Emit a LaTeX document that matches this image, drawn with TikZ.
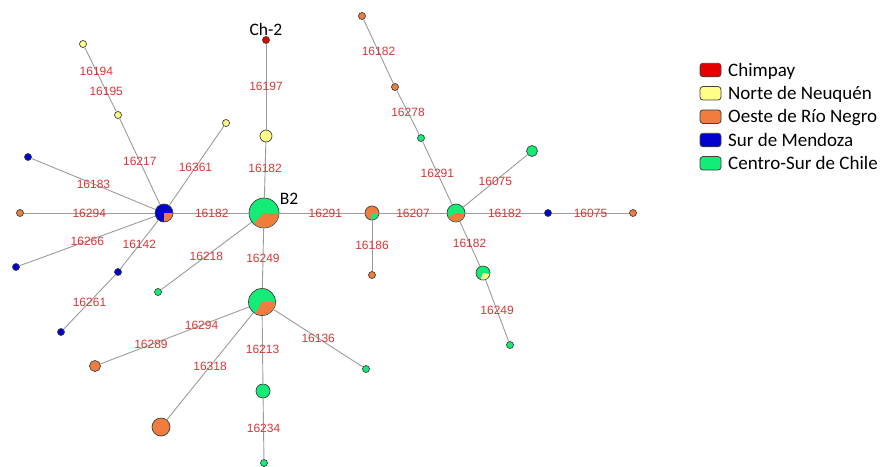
\documentclass[tikz,border=0pt]{standalone}
\usepackage{fontspec}
\newfontfamily\mutfont{Liberation Sans}
\newfontfamily\keyfont{Carlito}
\definecolor{chimpay}{RGB}{228,0,0}
\definecolor{neuquen}{RGB}{255,255,135}
\definecolor{rionegro}{RGB}{240,125,62}
\definecolor{mendoza}{RGB}{0,0,205}
\definecolor{chile}{RGB}{20,236,120}
\definecolor{mutred}{RGB}{215,55,55}
\definecolor{edgegray}{RGB}{155,155,155}
\tikzset{
  hap/.style={circle,draw=black!75,line width=0.7pt,inner sep=0pt,minimum size=#1},
  hap/.default=7pt,
  link/.style={draw=edgegray,line width=0.9pt},
  mut/.style={font=\mutfont\fontsize{12}{13}\selectfont,text=mutred,inner sep=0pt},
  tag/.style={font=\keyfont\fontsize{17.5}{20}\selectfont,inner sep=0pt},
  keybox/.style={draw=black!75,line width=0.8pt,rounded corners=3pt,minimum width=21pt,minimum height=13.5pt,inner sep=0pt},
  keytext/.style={font=\keyfont\fontsize{19}{22}\selectfont,inner sep=0pt,anchor=base west}
}
% slice of a pie node: node, colour, start, end, radius
\newcommand{\hapslice}[5]{\fill[#2] (#1.center) -- ++(#3:#5) arc[start angle=#3,end angle=#4,radius=#5] -- cycle;}
\begin{document}
\begin{tikzpicture}[x=1pt,y=-1pt]
\useasboundingbox (0,0) rectangle (880,466);
\clip (0,0) rectangle (880,466);

% haplotypes
\node[hap,fill=chimpay] (ch2) at (266,40) {};
\node[hap=12pt,fill=neuquen] (nqA) at (266,136) {};
\node[hap=30pt,fill=chile] (b2) at (264,213) {};
\node[hap=18pt,fill=mendoza] (mza) at (164,213) {};
\node[hap,fill=neuquen] (nqB) at (118,115) {};
\node[hap,fill=neuquen] (nqC) at (83,44) {};
\node[hap,fill=neuquen] (nqD) at (226,123) {};
\node[hap,fill=mendoza] (mzA) at (28,157) {};
\node[hap,fill=rionegro] (rnA) at (20,213) {};
\node[hap,fill=mendoza] (mzB) at (16,267) {};
\node[hap,fill=mendoza] (mzC) at (118,272) {};
\node[hap,fill=mendoza] (mzD) at (61,332) {};
\node[hap,fill=chile] (chA) at (158,292) {};
\node[hap=14pt,fill=rionegro] (rnB) at (372,213) {};
\node[hap,fill=rionegro] (rnC) at (372,275) {};
\node[hap=18pt,fill=chile] (chB) at (456,213) {};
\node[hap,fill=chile] (chC) at (421,138) {};
\node[hap,fill=rionegro] (rnD) at (395,87) {};
\node[hap,fill=rionegro] (rnE) at (362,16) {};
\node[hap=11pt,fill=chile] (chD) at (532,151) {};
\node[hap,fill=mendoza] (mzE) at (548,213) {};
\node[hap,fill=rionegro] (rnF) at (633,213) {};
\node[hap=14pt,fill=chile] (chE) at (483,273) {};
\node[hap,fill=chile] (chF) at (510,345) {};
\node[hap=27pt,fill=chile] (chG) at (262,302) {};
\node[hap=11pt,fill=rionegro] (rnG) at (95,366) {};
\node[hap=18pt,fill=rionegro] (rnH) at (161,427) {};
\node[hap=14pt,fill=chile] (chH) at (263,391) {};
\node[hap,fill=chile] (chI) at (264,463) {};
\node[hap,fill=chile] (chJ) at (366,369) {};

% shared haplotypes
\hapslice{b2}{rionegro}{-135}{0}{14.6pt}
\hapslice{chG}{rionegro}{-120}{0}{13.1pt}
\hapslice{mza}{rionegro}{-90}{0}{8.6pt}
\hapslice{rnB}{chile}{-100}{0}{6.6pt}
\hapslice{chB}{rionegro}{-150}{-5}{8.6pt}
\hapslice{chE}{neuquen}{-110}{-10}{6.6pt}

% mutational steps
\draw[link] (b2) -- node[mut,pos=0.53]{16182} (nqA);
\draw[link] (nqA) -- node[mut]{16197} (ch2);
\draw[link] (mza) -- node[mut,pos=0.51]{16182} (b2);
\draw[link] (mza) -- node[mut]{16217} (nqB);
\draw[link] (nqB) -- node[mut,pos=0.32]{16195} node[mut,pos=0.63]{16194} (nqC);
\draw[link] (mza) -- node[mut,pos=0.48]{16361} (nqD);
\draw[link] (mza) -- node[mut]{16183} (mzA);
\draw[link] (mza) -- node[mut]{16294} (rnA);
\draw[link] (mza) -- node[mut]{16266} (mzB);
\draw[link] (mza) -- node[mut]{16142} (mzC);
\draw[link] (mzC) -- node[mut]{16261} (mzD);
\draw[link] (b2) -- node[mut]{16218} (chA);
\draw[link] (b2) -- node[mut,pos=0.54]{16291} (rnB);
\draw[link] (rnB) -- node[mut]{16186} (rnC);
\draw[link] (rnB) -- node[mut]{16207} (chB);
\draw[link] (chB) -- node[mut]{16291} (chC);
\draw[link] (chC) -- node[mut]{16278} (rnD);
\draw[link] (rnD) -- node[mut]{16182} (rnE);
\draw[link] (chB) -- node[mut]{16075} (chD);
\draw[link] (chB) -- node[mut]{16182} (mzE);
\draw[link] (mzE) -- node[mut]{16075} (rnF);
\draw[link] (chB) -- node[mut,pos=0.48]{16182} (chE);
\draw[link] (chE) -- node[mut]{16249} (chF);
\draw[link] (b2) -- node[mut]{16249} (chG);
\draw[link] (chG) -- node[mut,pos=0.32]{16294} node[mut,pos=0.66]{16289} (rnG);
\draw[link] (chG) -- node[mut]{16318} (rnH);
\draw[link] (chG) -- node[mut]{16213} (chH);
\draw[link] (chH) -- node[mut]{16234} (chI);
\draw[link] (chG) -- node[mut]{16136} (chJ);

% names
\node[tag] (b2tag) at (289,199) {B2};
\node[tag] (ch2tag) at (266,29) {Ch-2};

% legend
\foreach \y/\col/\txt in {70/chimpay/Chimpay,93.3/neuquen/Norte de Neuquén,116.7/rionegro/Oeste de Río Negro,140/mendoza/Sur de Mendoza,163.3/chile/Centro-Sur de Chile}{
  \node[keybox,fill=\col] at (710.5,\y) {};
  \node[keytext] at (728,\y+6) {\txt};
}
\end{tikzpicture}
\end{document}
